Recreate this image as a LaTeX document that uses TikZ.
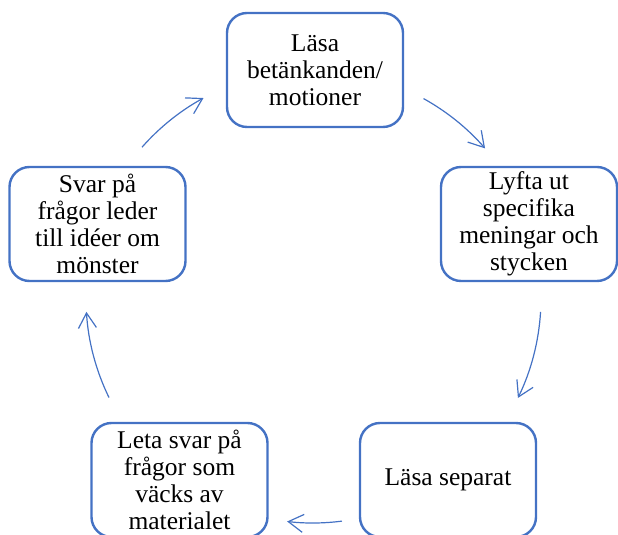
\documentclass[tikz,border=0pt]{standalone}
\usepackage{fontspec}
\setmainfont{Liberation Serif}
\usepackage{tikz}
\usetikzlibrary {calc,arrows.meta}
\definecolor{ramblue}{HTML}{4472C4}

\begin{document}
\begin{tikzpicture}[
    x=1pt, y=1pt,
    steg/.style={
        draw=ramblue,
        line width=2.4pt,
        rounded corners=20pt,  % Soft corners like the SmartArt boxes
        minimum width=176pt,
        minimum height=114pt,
        align=center,
        font=\fontsize{25.5}{27}\selectfont
    },
    pil/.style={
        draw=ramblue,
        line width=1.2pt,
        -{Straight Barb[length=15pt,width=18pt,line width=1.2pt]}
    }
]
\useasboundingbox (0,0) rectangle (618,535);

\node[steg] (a) at (315,465) {Läsa\\betänkanden/\\motioner};
\node[steg] (b) at (529,311) {Lyfta ut\\specifika\\meningar och\\stycken};
\node[steg] (c) at (448,55)  {Läsa separat};
\node[steg] (d) at (179.5,55) {Leta svar på\\frågor som\\väcks av\\materialet};
\node[steg] (e) at (97.5,311) {Svar på\\frågor leder\\till idéer om\\mönster};

\coordinate (hub) at (313,237);   % centre of the cycle

\draw[pil] ($(hub)+(61:228pt)$)   arc[start angle=61,   end angle=41,    radius=228pt];
\draw[pil] ($(hub)+(-3.5:228pt)$) arc[start angle=-3.5, end angle=-26,   radius=228pt];
\draw[pil] ($(hub)+(-82.6:225pt)$) arc[start angle=-82.6, end angle=-96.6, radius=225pt];
\draw[pil] ($(hub)+(206:227pt)$)  arc[start angle=206,  end angle=183.5, radius=227pt];
\draw[pil] ($(hub)+(138.6:228pt)$) arc[start angle=138.6, end angle=118.7, radius=228pt];
\end{tikzpicture}
\end{document}
